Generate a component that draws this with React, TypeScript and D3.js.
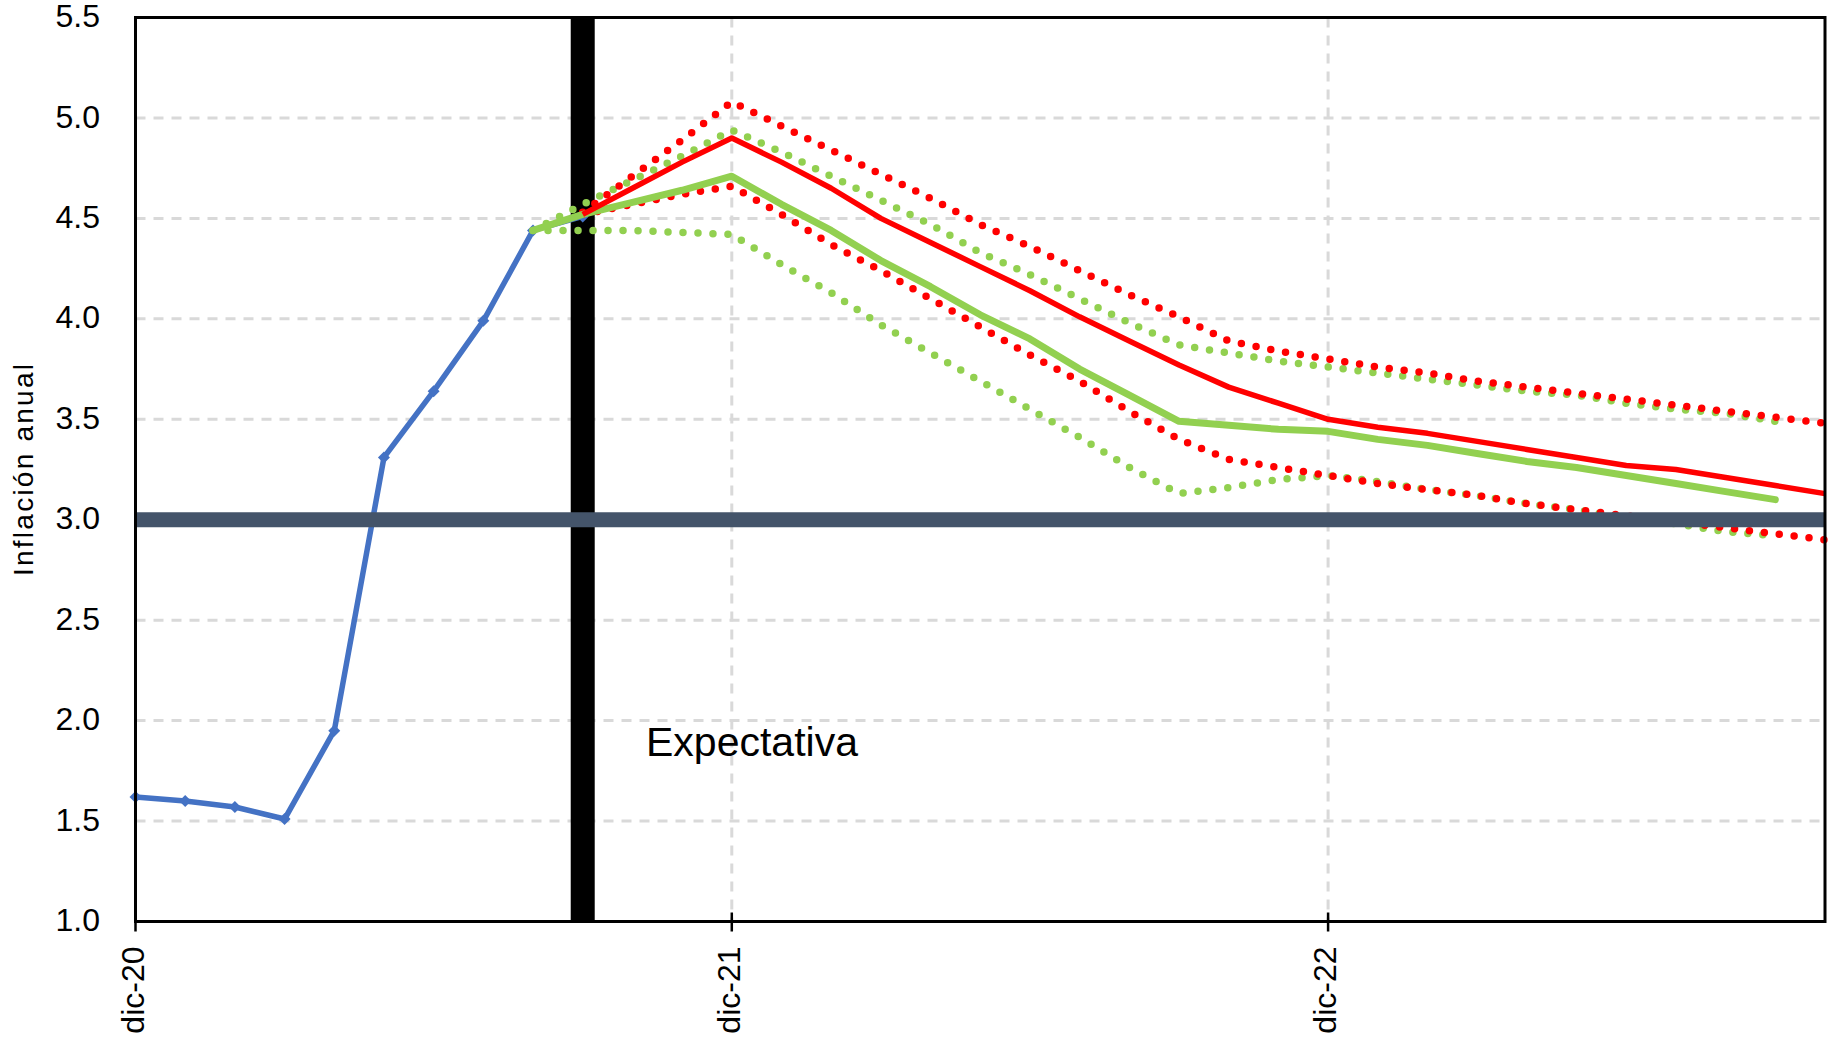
import React from "react";
import * as d3 from "d3";

const months = [
  "dic-20","ene-21","feb-21","mar-21","abr-21","may-21","jun-21","jul-21","ago-21","sep-21","oct-21","nov-21",
  "dic-21","ene-22","feb-22","mar-22","abr-22","may-22","jun-22","jul-22","ago-22","sep-22","oct-22","nov-22",
  "dic-22","ene-23","feb-23","mar-23","abr-23","may-23","jun-23","jul-23","ago-23","sep-23","oct-23",
];
const xTickLabels = ["dic-20", "dic-21", "dic-22"];
const yTicks = [1.0, 1.5, 2.0, 2.5, 3.0, 3.5, 4.0, 4.5, 5.0, 5.5];

const N = null;
const observed = [1.62,1.60,1.57,1.51,1.95,3.31,3.64,3.99,4.44,4.51,
  N,N,N,N,N,N,N,N,N,N,N,N,N,N,N,N,N,N,N,N,N,N,N,N,N];
const greenMid = [N,N,N,N,N,N,N,N,
  4.44,4.52,4.58,4.64,4.71,4.57,4.44,4.29,4.16,4.02,3.90,3.75,3.62,3.49,3.47,3.45,3.44,3.40,3.37,3.33,3.29,3.26,3.22,3.18,3.14,3.10, N];
const greenHigh = [N,N,N,N,N,N,N,N,
  4.44,4.57,4.69,4.81,4.94,4.83,4.71,4.59,4.47,4.33,4.22,4.10,3.98,3.87,3.83,3.79,3.76,3.73,3.70,3.67,3.64,3.62,3.58,3.55,3.53,3.49, N];
const greenLow = [N,N,N,N,N,N,N,N,
  4.44,4.44,4.44,4.43,4.42,4.27,4.13,3.97,3.83,3.69,3.55,3.41,3.26,3.13,3.16,3.20,3.22,3.19,3.15,3.12,3.08,3.05,3.01,2.98,2.94,2.92, N];
const redMid = [N,N,N,N,N,N,N,N,N,
  4.52,4.65,4.78,4.90,4.78,4.65,4.50,4.38,4.26,4.14,4.01,3.89,3.77,3.66,3.58,3.50,3.46,3.43,3.39,3.35,3.31,3.27,3.25,3.21,3.17,3.13];
const redHigh = [N,N,N,N,N,N,N,N,N,
  4.53,4.71,4.89,5.08,4.96,4.84,4.72,4.60,4.47,4.36,4.24,4.12,4.01,3.89,3.84,3.80,3.76,3.73,3.69,3.66,3.63,3.60,3.57,3.54,3.51,3.48];
const redLow = [N,N,N,N,N,N,N,N,N,
  4.52,4.57,4.62,4.66,4.52,4.37,4.24,4.10,3.96,3.82,3.69,3.54,3.40,3.30,3.26,3.22,3.18,3.15,3.12,3.08,3.05,3.02,2.99,2.96,2.93,2.90];
const targetValue = 3.0;
const forecastStart = "sep-21";
const annotation = "Expectativa";
const yTitle = "Inflación anual";

const W = 1832, H = 1045;
const left = 135.5, right = 1825, top = 17.5, bottom = 921.5;
const FONT = "'Liberation Sans', Arial, sans-serif";

export default function App() {
  const x = d3.scalePoint<string>().domain(months).range([left, right]).padding(0);
  const y = d3.scaleLinear().domain([1.0, 5.5]).range([bottom, top]);

  const line = d3
    .line<number | null>()
    .defined((d) => d != null)
    .x((_, i) => x(months[i]) as number)
    .y((d) => y(d as number));

  const diamond = d3.symbol().type(d3.symbolSquare).size(72)();
  const dotted = { strokeDasharray: "0 15", strokeLinecap: "round" as const, strokeWidth: 7.5, fill: "none" };

  const barX = x(forecastStart) as number;

  return (
    <svg width={W} height={H} style={{ position: "absolute", left: 0, top: 0, background: "#fff" }} fontFamily={FONT}>
      <rect x={0} y={0} width={W} height={H} fill="#fff" />
      {/* horizontal gridlines */}
      {yTicks.slice(1, -1).map((t) => (
        <line key={t} x1={left} x2={right} y1={y(t)} y2={y(t)} stroke="#d9d9d9" strokeWidth={3} strokeDasharray="10 8" />
      ))}
      {/* vertical gridlines */}
      {xTickLabels.slice(1).map((m) => (
        <line key={m} x1={x(m)} x2={x(m)} y1={top} y2={bottom} stroke="#d9d9d9" strokeWidth={3} strokeDasharray="10 8" />
      ))}
      {/* forecast start bar */}
      <line x1={barX} x2={barX} y1={top} y2={bottom} stroke="#000" strokeWidth={24} />

      {/* series */}
      <path d={line(observed) || ""} fill="none" stroke="#4472c4" strokeWidth={5.5} strokeLinejoin="round" />
      {observed.map((v, i) =>
        v == null ? null : (
          <path key={i} d={diamond} transform={`translate(${x(months[i])},${y(v)}) rotate(45)`} fill="#4472c4" />
        )
      )}
      <path d={line(greenHigh) || ""} stroke="#92d050" {...dotted} />
      <path d={line(greenLow) || ""} stroke="#92d050" {...dotted} />
      <path d={line(redHigh) || ""} stroke="#ff0000" {...dotted} />
      <path d={line(redLow) || ""} stroke="#ff0000" {...dotted} />
      <path d={line(greenMid) || ""} fill="none" stroke="#92d050" strokeWidth={7} strokeLinejoin="round" strokeLinecap="round" />
      <path d={line(redMid) || ""} fill="none" stroke="#ff0000" strokeWidth={5.5} strokeLinejoin="round" />

      {/* target line */}
      <line x1={left} x2={right} y1={y(targetValue)} y2={y(targetValue)} stroke="#44546a" strokeWidth={15} />

      {/* frame */}
      <rect x={left} y={top} width={right - left} height={bottom - top} fill="none" stroke="#000" strokeWidth={3} />

      {/* x ticks */}
      {xTickLabels.map((m) => (
        <g key={m}>
          <line x1={x(m)} x2={x(m)} y1={bottom - 9} y2={bottom + 10} stroke="#000" strokeWidth={2.5} />
          <text
            transform={`translate(${x(m)},${bottom + 25}) rotate(-90)`}
            textAnchor="end"
            dy="0.25em"
            fontSize={32}
            fill="#000"
          >
            {m}
          </text>
        </g>
      ))}

      {/* y tick labels */}
      {yTicks.map((t) => (
        <text key={t} x={100} y={y(t)} dy="0.3em" textAnchor="end" fontSize={32} fill="#000">
          {t.toFixed(1)}
        </text>
      ))}

      {/* y title */}
      <text
        transform={`translate(33,${470}) rotate(-90)`}
        textAnchor="middle"
        fontSize={28}
        textLength={212}
        lengthAdjust="spacing"
        fill="#000"
      >
        {yTitle}
      </text>

      {/* annotation */}
      <text x={646} y={756} fontSize={41} fill="#000">
        {annotation}
      </text>
    </svg>
  );
}
